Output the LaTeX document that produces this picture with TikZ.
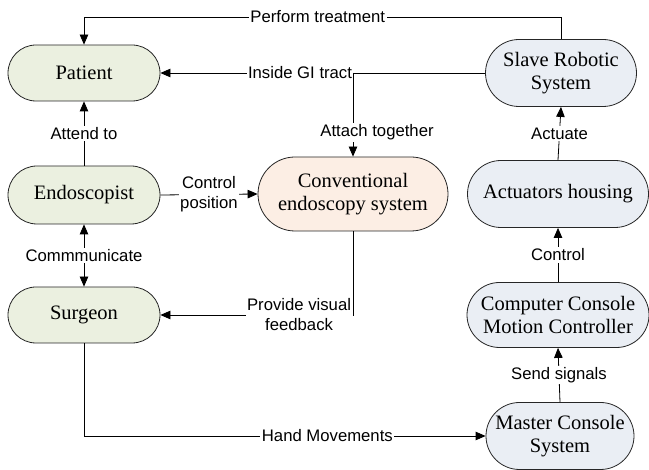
\documentclass[tikz,border=0pt]{standalone}
\usepackage{fontspec}
\setmainfont{Liberation Serif}
\newfontfamily\labfont{Liberation Sans}
\usetikzlibrary{arrows.meta,calc}
\definecolor{pgreen}{RGB}{235,240,224}
\definecolor{ppeach}{RGB}{252,238,228}
\definecolor{pblue}{RGB}{234,238,244}
\tikzset{
  pill/.style n args={3}{draw=black!85, line width=0.8pt, align=center, inner sep=0pt,
    font=\fontsize{20.5}{23.5}\selectfont,
    minimum width=#1pt, minimum height=#2pt, rounded corners=#3pt},
  arr/.style={draw=black, line width=0.8pt, -{Triangle[length=10pt,width=8.5pt]}},
  lnk/.style={draw=black, line width=0.8pt},
  dbl/.style={draw=black, line width=0.8pt, {Triangle[length=10pt,width=8.5pt]}-{Triangle[length=10pt,width=8.5pt]}},
  lab/.style={fill=white, inner sep=1.5pt, align=center,
    font=\labfont\fontsize{16.7}{20}\selectfont}
}
\begin{document}
\begin{tikzpicture}[x=1pt,y=-1pt]
\useasboundingbox (0,0) rectangle (649,470);
% nodes
\node[pill={152}{56}{28}, fill=pgreen] (patient) at (84,73) {Patient};
\node[pill={152}{58}{29}, fill=pgreen] (endo) at (84,195) {Endoscopist};
\node[pill={152}{56}{28}, fill=pgreen] (surgeon) at (84,315) {Surgeon};
\node[pill={190}{74}{37}, fill=ppeach] (conv) at (353,194) {Conventional\\endoscopy system};
\node[pill={151}{67}{33.5}, fill=pblue] (slave) at (561,73) {Slave Robotic\\System};
\node[pill={181}{67}{33.5}, fill=pblue] (act) at (558,194) {Actuators housing};
\node[pill={182}{65}{32.5}, fill=pblue] (comp) at (558,315) {Computer Console\\Motion Controller};
\node[pill={148}{67}{33.5}, fill=pblue] (master) at (560,436) {Master Console\\System};
% corner coordinates
\coordinate (topR) at (slave.north |- 0,17);
\coordinate (topL) at (patient.north |- 0,17);
\coordinate (J) at (conv.north |- slave.west);
% connectors
\draw[arr] (slave.north) -- (topR) -- node[lab,pos=0.51]{Perform treatment} (topL) -- (patient.north);
\draw[arr] (slave.west) -- node[lab,pos=0.57]{Inside GI tract} (patient.east);
\draw[arr] (J) -- node[lab,pos=0.71,xshift=24pt]{Attach together} (conv.north);
\draw[arr] (endo.north) -- node[lab]{Attend to} (patient.south);
\draw[arr] (endo.east) -- node[lab]{Control\\position} (conv.west);
\draw[dbl] (endo.south) -- node[lab]{Commmunicate} (surgeon.north);
\draw[arr] (conv.south) |- node[lab,pos=0.64]{Provide visual\\feedback} (surgeon.east);
\draw[arr] (surgeon.south) |- node[lab,pos=0.803]{Hand Movements} (master.west);
\draw[arr] (act.north) -- node[lab]{Actuate} (slave.south);
\draw[arr] (comp.north) -- node[lab]{Control} (act.south);
\draw[arr] (master.north) -- node[lab]{Send signals} (comp.south);
\end{tikzpicture}
\end{document}
